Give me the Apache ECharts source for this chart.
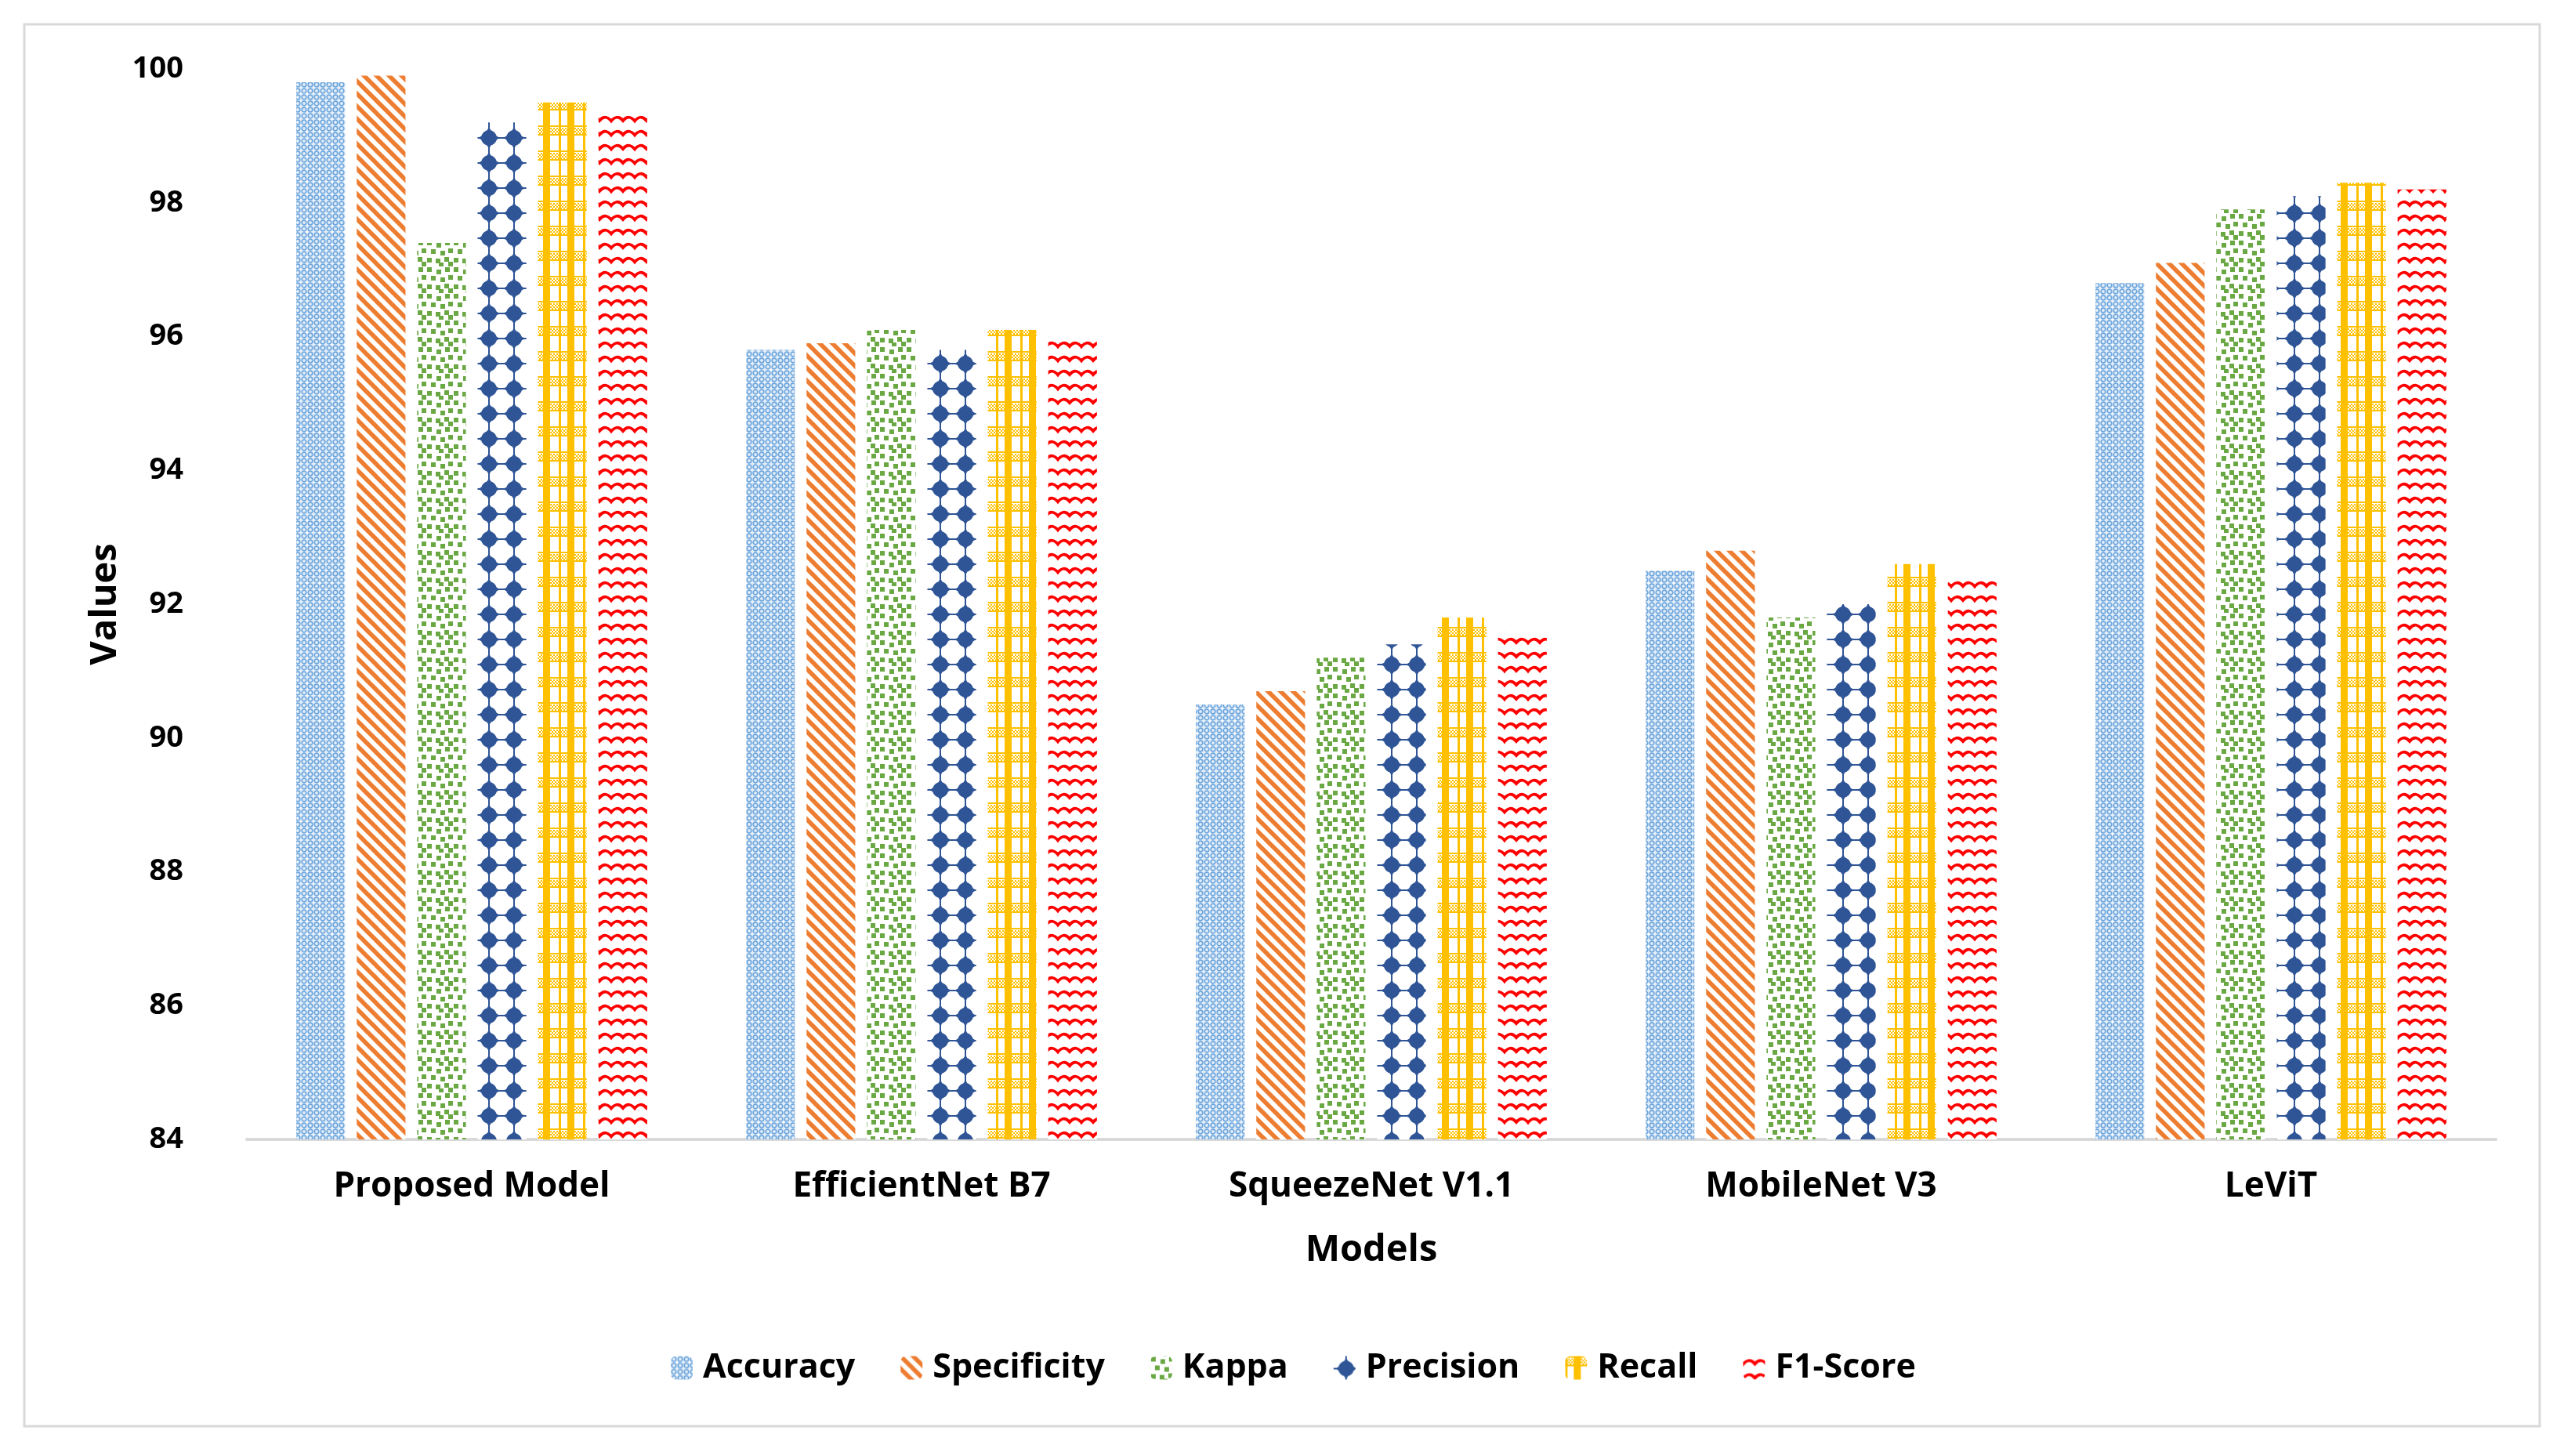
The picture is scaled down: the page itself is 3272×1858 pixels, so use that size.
<!DOCTYPE html>
<html>
<head>
<meta charset="utf-8">
<script src="https://cdn.jsdelivr.net/npm/echarts@6/dist/echarts.min.js"></script>
<style>
  html, body { margin: 0; padding: 0; background: #ffffff; }
  #chart { width: 3272px; height: 1858px; }
</style>
</head>
<body>
<div id="chart"></div>
<script>
// ---- data ----
const categories = ['Proposed Model', 'EfficientNet B7', 'SqueezeNet V1.1', 'MobileNet V3', 'LeViT'];
const seriesNames = ['Accuracy', 'Specificity', 'Kappa', 'Precision', 'Recall', 'F1-Score'];
const accuracy    = [99.8, 95.8, 90.5, 92.5, 96.8];
const specificity = [99.9, 95.9, 90.7, 92.8, 97.1];
const kappa       = [97.4, 96.1, 91.2, 91.8, 97.9];
const precision   = [99.2, 95.8, 91.4, 92.0, 98.1];
const recall      = [99.5, 96.1, 91.8, 92.6, 98.3];
const f1Score     = [99.3, 95.95, 91.6, 92.4, 98.2];
const yMin = 84, yMax = 100, yStep = 2;

// ---- pattern fills (style only) ----
function tile(w, h, draw) {
  const c = document.createElement('canvas');
  c.width = w; c.height = h;
  const g = c.getContext('2d');
  draw(g, w, h);
  return { image: c, repeat: 'repeat' };
}
const patAccuracy = tile(16, 16, (g, w, h) => {
  g.fillStyle = '#e3eef9'; g.fillRect(0, 0, w, h);
  g.strokeStyle = '#6ea6dc'; g.lineWidth = 1.7;
  [[4, 4], [12, 4], [4, 12], [12, 12]].forEach(p => {
    g.beginPath(); g.arc(p[0], p[1], 2.8, 0, Math.PI * 2); g.stroke();
  });
  g.fillStyle = '#ffffff';
  g.fillRect(7, 7, 2, 2);
});
const patSpecificity = tile(16, 16, (g, w, h) => {
  g.fillStyle = '#ffffff'; g.fillRect(0, 0, w, h);
  g.strokeStyle = '#ed7d31'; g.lineWidth = 5.5; g.lineCap = 'square';
  for (let k = -1; k <= 1; k++) {
    g.beginPath(); g.moveTo(k * 16, 0); g.lineTo(k * 16 + 16, 16); g.stroke();
  }
});
const patKappa = tile(34, 34, (g, w, h) => {
  g.fillStyle = '#ffffff'; g.fillRect(0, 0, w, h);
  g.fillStyle = '#6aa843';
  [[1, 1], [13, 4], [24, 1], [6, 12], [18, 14], [28, 11], [1, 23], [12, 24], [23, 22], [28, 28], [16, 29]].forEach(p => {
    g.fillRect(p[0], p[1], 6, 6);
  });
});
const patPrecision = tile(32, 32, (g, w, h) => {
  g.fillStyle = '#ffffff'; g.fillRect(0, 0, w, h);
  g.strokeStyle = '#2f5597'; g.lineWidth = 2;
  g.beginPath(); g.moveTo(0, 16); g.lineTo(32, 16); g.moveTo(16, 0); g.lineTo(16, 32); g.stroke();
  g.fillStyle = '#2f5597';
  g.beginPath(); g.arc(16, 16, 10, 0, Math.PI * 2); g.fill();
  g.beginPath();
  g.moveTo(16, 2); g.lineTo(21, 11); g.lineTo(30, 16); g.lineTo(21, 21);
  g.lineTo(16, 30); g.lineTo(11, 21); g.lineTo(2, 16); g.lineTo(11, 11); g.closePath();
  g.fill();
});
const patRecall = tile(31, 32, (g, w, h) => {
  g.fillStyle = '#ffffff'; g.fillRect(0, 0, w, h);
  g.fillStyle = '#ffc000';
  g.fillRect(11, 0, 9, 32);
  g.fillRect(0, 0, 3, 32);
  g.fillRect(0, 0, 31, 2);
  for (let x = 0; x < 31; x += 4) { g.fillRect(x, 3, 2, 2); g.fillRect(x + 2, 5, 2, 2); g.fillRect(x, 7, 2, 2); g.fillRect(x + 2, 9, 2, 2); }
  g.fillRect(0, 11, 31, 2);
});
const patF1 = tile(30, 18, (g, w, h) => {
  g.fillStyle = '#ffffff'; g.fillRect(0, 0, w, h);
  g.strokeStyle = '#ff0000'; g.lineWidth = 3.8;
  g.beginPath();
  g.moveTo(-2, 13); g.quadraticCurveTo(7, 0, 15, 10); g.quadraticCurveTo(23, 0, 32, 13);
  g.stroke();
});

const seriesValues = [accuracy, specificity, kappa, precision, recall, f1Score];
const seriesPatterns = [patAccuracy, patSpecificity, patKappa, patPrecision, patRecall, patF1];

const FONT = 'Open Sans';
const chart = echarts.init(document.getElementById('chart'), null, { renderer: 'canvas' });

const option = {
  backgroundColor: '#ffffff',
  animation: false,
  graphic: [{
    type: 'rect',
    shape: { x: 31, y: 31, width: 3210, height: 1789 },
    style: { fill: 'none', stroke: '#d9d9d9', lineWidth: 3 },
    silent: true
  }],
  grid: { left: 315, right: 87, top: 88, bottom: 404 },
  legend: {
    data: seriesNames,
    top: 1719,
    left: 851,
    itemWidth: 28,
    itemHeight: 30,
    itemGap: 58,
    textStyle: { fontFamily: FONT, fontWeight: 'bold', fontSize: 43, color: '#000', padding: [0, 0, 0, 8] }
  },
  xAxis: {
    type: 'category',
    data: categories,
    name: 'Models',
    nameLocation: 'middle',
    nameGap: 118,
    nameTextStyle: { fontFamily: FONT, fontWeight: 'bold', fontSize: 47, color: '#000' },
    axisLine: { show: true, lineStyle: { color: '#d9d9d9', width: 4 } },
    axisTick: { show: false },
    axisLabel: { margin: 38, fontFamily: FONT, fontWeight: 'bold', fontSize: 44, color: '#000' },
    splitLine: { show: false }
  },
  yAxis: {
    type: 'value',
    min: yMin, max: yMax, interval: yStep,
    name: 'Values',
    nameLocation: 'middle',
    nameGap: 143,
    nameTextStyle: { fontFamily: FONT, fontWeight: 'bold', fontSize: 47, color: '#000' },
    axisLine: { show: false },
    axisTick: { show: false },
    axisLabel: { margin: 81, fontFamily: FONT, fontWeight: 'bold', fontSize: 38, color: '#000' },
    splitLine: { show: false }
  },
  series: seriesNames.map((name, i) => ({
    name: name,
    type: 'bar',
    data: seriesValues[i],
    barGap: '24%',
    barCategoryGap: '22%',
    itemStyle: { color: seriesPatterns[i] },
    emphasis: { disabled: true }
  }))
};
chart.setOption(option);
</script>
</body>
</html>
